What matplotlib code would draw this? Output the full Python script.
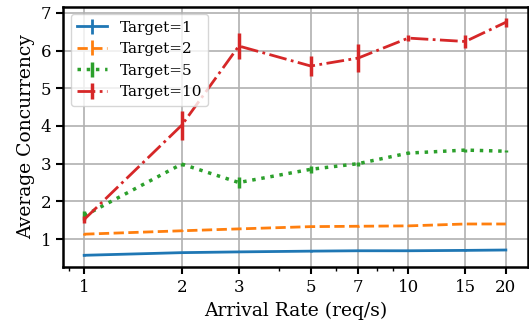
import numpy as np
from matplotlib import pyplot as plt
from matplotlib.ticker import FixedLocator, FixedFormatter, NullFormatter

plt.rcParams['font.family'] = 'DejaVu Serif'

rates = [1, 2, 3, 5, 7, 10, 15, 20]
rate_labels = ['1', '2', '3', '5', '7', '10', '15', '20']

t1 = [0.57, 0.64, 0.66, 0.68, 0.69, 0.69, 0.70, 0.71]
t1_err = [0.01, 0.01, 0.01, 0.01, 0.01, 0.01, 0.01, 0.01]
t2 = [1.13, 1.22, 1.27, 1.33, 1.34, 1.35, 1.40, 1.40]
t2_err = [0.03, 0.01, 0.01, 0.01, 0.01, 0.01, 0.01, 0.01]
t5 = [1.62, 2.99, 2.50, 2.85, 3.00, 3.28, 3.36, 3.33]
t5_err = [0.12, 0.04, 0.15, 0.10, 0.05, 0.03, 0.04, 0.03]
t10 = [1.52, 4.02, 6.12, 5.59, 5.80, 6.33, 6.24, 6.75]
t10_err = [0.10, 0.38, 0.34, 0.26, 0.38, 0.08, 0.18, 0.12]

fig = plt.figure(figsize=(5.29, 3.24), dpi=100)
ax = fig.add_axes([0.119, 0.176, 0.879, 0.803])

ax.errorbar(rates, t1, yerr=t1_err, color='#1f77b4', ls='-', lw=2,
            elinewidth=2, label='Target=1')
ax.errorbar(rates, t2, yerr=t2_err, color='#ff7f0e', ls='--', lw=2,
            elinewidth=2, label='Target=2')
ax.errorbar(rates, t5, yerr=t5_err, color='#2ca02c', ls=':', lw=2.5,
            elinewidth=2.5, label='Target=5')
ax.errorbar(rates, t10, yerr=t10_err, color='#d62728', ls='-.', lw=2,
            elinewidth=2.5, label='Target=10')

ax.set_xscale('log')
ax.xaxis.set_major_locator(FixedLocator(rates))
ax.xaxis.set_major_formatter(FixedFormatter(rate_labels))
ax.xaxis.set_minor_formatter(NullFormatter())
ax.set_xlim(0.86, 23.4)
ax.set_ylim(0.26, 7.16)
ax.set_yticks([1, 2, 3, 4, 5, 6, 7])

ax.grid(True, which='major', color='#b0b0b0', lw=1.2)
for s in ax.spines.values():
    s.set_linewidth(1.8)
    s.set_color('black')
ax.tick_params(which='major', length=5, width=1.5, labelsize=12)
ax.tick_params(which='minor', length=3, width=1)

ax.set_xlabel('Arrival Rate (req/s)', fontsize=13.5)
ax.set_ylabel('Average Concurrency', fontsize=13.5)
ax.legend(loc='upper left', fontsize=11, framealpha=0.8)

fig.savefig('out.png')
